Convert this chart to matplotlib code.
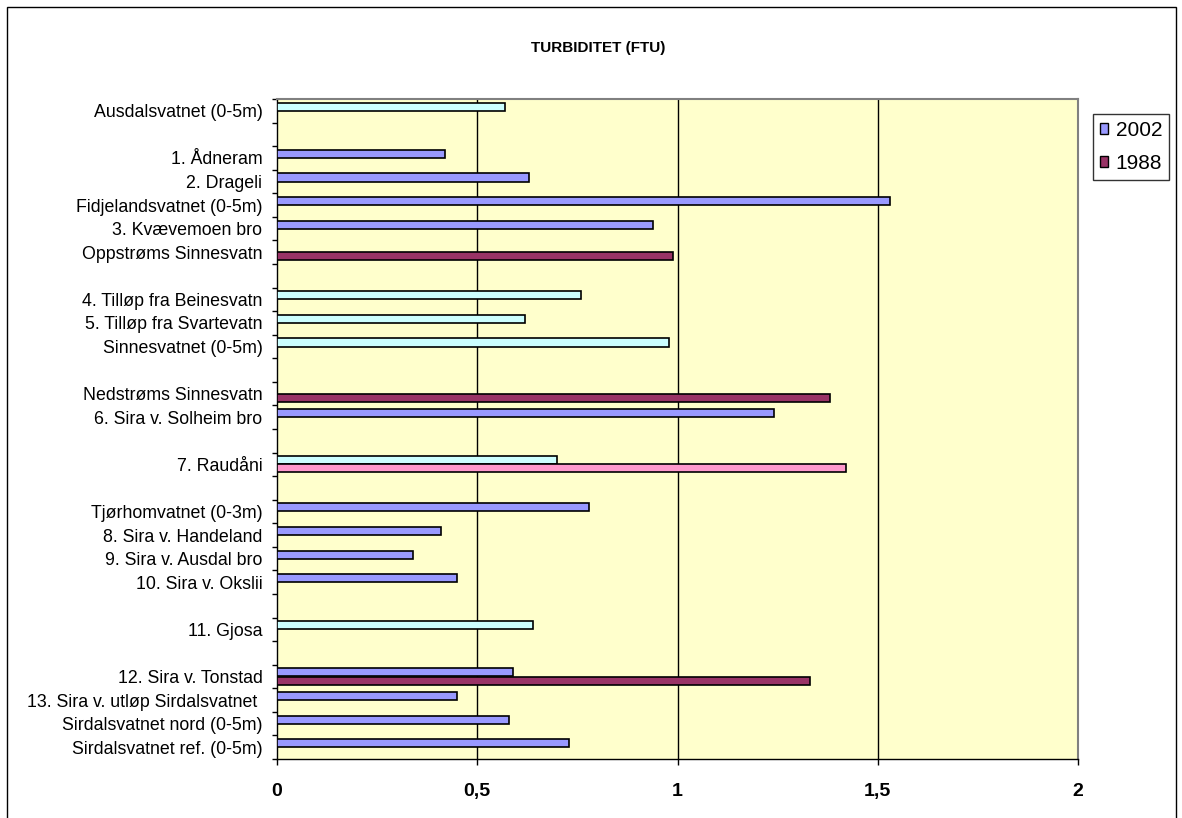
import numpy as np
import matplotlib
matplotlib.use("Agg")
import matplotlib.pyplot as plt
from matplotlib.patches import Patch, Rectangle

# Sampling stations, top to bottom; empty strings are spacer rows between river sections
stations = [
    "Ausdalsvatnet (0-5m)", "",
    "1. Ådneram", "2. Drageli", "Fidjelandsvatnet (0-5m)", "3. Kvævemoen bro",
    "Oppstrøms Sinnesvatn", "",
    "4. Tilløp fra Beinesvatn", "5. Tilløp fra Svartevatn", "Sinnesvatnet (0-5m)", "",
    "Nedstrøms Sinnesvatn", "6. Sira v. Solheim bro", "",
    "7. Raudåni", "",
    "Tjørhomvatnet (0-3m)", "8. Sira v. Handeland", "9. Sira v. Ausdal bro",
    "10. Sira v. Okslii", "",
    "11. Gjosa", "",
    "12. Sira v. Tonstad", "13. Sira v. utløp Sirdalsvatnet ",
    "Sirdalsvatnet nord (0-5m)", "Sirdalsvatnet ref. (0-5m)",
]

nan = np.nan
# Turbidity (FTU), 2002 survey
turb_2002 = [
    0.57, nan,
    0.42, 0.63, 1.53, 0.94,
    nan, nan,
    0.76, 0.62, 0.98, nan,
    nan, 1.24, nan,
    0.70, nan,
    0.78, 0.41, 0.34,
    0.45, nan,
    0.64, nan,
    0.59, 0.45,
    0.58, 0.73,
]
# Turbidity (FTU), 1988 survey
turb_1988 = [
    nan, nan,
    nan, nan, nan, nan,
    0.99, nan,
    nan, nan, nan, nan,
    1.38, nan, nan,
    1.42, nan,
    nan, nan, nan,
    nan, nan,
    nan, nan,
    1.33, nan,
    nan, nan,
]

# Lakes and tributaries drawn with their own point colours
highlighted = ["Ausdalsvatnet (0-5m)", "4. Tilløp fra Beinesvatn",
               "5. Tilløp fra Svartevatn", "Sinnesvatnet (0-5m)",
               "7. Raudåni", "11. Gjosa"]

x_ticks = [0, 0.5, 1, 1.5, 2]
x_labels = ["0", "0,5", "1", "1,5", "2"]

C2002 = "#9999FF"
C1988 = "#993366"
CCYAN = "#CCFFFF"
CPINK = "#FF99CC"
BG = "#FFFFCC"

plt.rcParams["font.family"] = ["Liberation Sans", "DejaVu Sans"]

W, H = 1182, 818
fig = plt.figure(figsize=(W / 100, H / 100), dpi=100)

# outer chart frame
fig.patches.append(Rectangle((7 / W, -0.1), (1176 - 7) / W, 1 - 7 / H + 0.1,
                             transform=fig.transFigure, fill=False,
                             edgecolor="black", linewidth=1.0))

L, R, T, B = 277, 1078, 99, 759
ax = fig.add_axes([L / W, 1 - B / H, (R - L) / W, (B - T) / H])
ax.set_facecolor(BG)

n = len(stations)
y = np.arange(n)
h = 0.34
off = 0.17

c2002 = [CCYAN if s in highlighted else C2002 for s in stations]
c1988 = [CPINK if s == "7. Raudåni" else C1988 for s in stations]

ax.barh(y - off, np.nan_to_num(turb_2002), height=h, color=c2002,
        edgecolor="black", linewidth=1.2, zorder=3)
ax.barh(y + off, np.nan_to_num(turb_1988), height=h, color=c1988,
        edgecolor="black", linewidth=1.2, zorder=3)

ax.set_xlim(0, 2)
ax.set_ylim(n - 0.5, -0.5)

for g in x_ticks[1:-1]:
    ax.axvline(g, color="black", linewidth=1.0, zorder=1)

ax.set_yticks(y)
ax.set_yticklabels(stations, fontsize=12.8)
ax.tick_params(axis="y", which="major", length=0, pad=10.5)
ax.set_yticks(np.arange(n + 1) - 0.5, minor=True)
ax.tick_params(axis="y", which="minor", length=3.5, width=1.0, direction="out")

ax.set_xticks(x_ticks)
ax.set_xticklabels(x_labels, fontsize=14, fontweight="bold")
ax.tick_params(axis="x", length=4, width=1.0, direction="out", pad=13)

ax.spines["left"].set_color("black")
ax.spines["bottom"].set_color("black")
ax.spines["left"].set_linewidth(1.0)
ax.spines["bottom"].set_linewidth(1.0)
ax.spines["top"].set_color("#808080")
ax.spines["right"].set_color("#808080")
ax.spines["top"].set_linewidth(1.5)
ax.spines["right"].set_linewidth(1.5)

fig.text(598 / W, 1 - 48 / H, "TURBIDITET (FTU)", ha="center", va="center",
         fontsize=11, fontweight="bold")

handles = [Patch(facecolor=C2002, edgecolor="black", linewidth=1.0, label="2002"),
           Patch(facecolor=C1988, edgecolor="black", linewidth=1.0, label="1988")]
leg = fig.legend(handles=handles, loc="upper left",
                 bbox_to_anchor=(1093 / W, 1 - 114 / H), fontsize=15,
                 frameon=True, fancybox=False, handlelength=0.42,
                 handleheight=0.42, handletextpad=0.35, borderpad=0.32,
                 labelspacing=0.68, borderaxespad=0)
leg.get_frame().set_edgecolor("black")
leg.get_frame().set_linewidth(1.0)

fig.savefig("out.png", dpi=100, facecolor="white")
